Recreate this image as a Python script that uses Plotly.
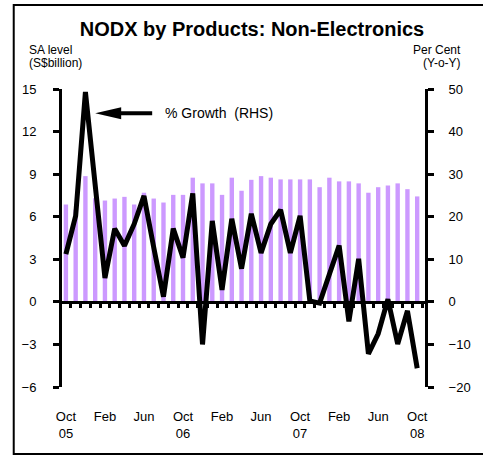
import plotly.graph_objects as go

months = ["Oct 05", "Nov 05", "Dec 05", "Jan 06", "Feb 06", "Mar 06", "Apr 06", "May 06",
          "Jun 06", "Jul 06", "Aug 06", "Sep 06", "Oct 06", "Nov 06", "Dec 06", "Jan 07",
          "Feb 07", "Mar 07", "Apr 07", "May 07", "Jun 07", "Jul 07", "Aug 07", "Sep 07",
          "Oct 07", "Nov 07", "Dec 07", "Jan 08", "Feb 08", "Mar 08", "Apr 08", "May 08",
          "Jun 08", "Jul 08", "Aug 08", "Sep 08", "Oct 08"]

sa_level = [6.86, 6.5, 8.86, 7.3, 7.14, 7.28, 7.40, 6.86, 7.69, 7.28, 7.0, 7.54, 7.54,
            8.75, 8.35, 8.35, 7.54, 8.75, 7.83, 8.6, 8.86, 8.75, 8.63, 8.63, 8.63, 8.63,
            8.08, 8.75, 8.49, 8.49, 8.35, 7.69, 8.08, 8.2, 8.35, 7.94, 7.43]

growth = [11.2, 20.2, 49.3, 27.0, 5.6, 17.2, 13.2, 18.3, 24.9, 12.8, 1.2, 17.2, 10.4,
          25.5, -10.0, 19.0, 2.8, 19.5, 7.8, 20.7, 11.5, 18.3, 21.6, 11.5, 20.2, 0.2,
          -0.3, 6.5, 13.2, -4.6, 10.1, -12.2, -7.5, 0.6, -9.9, -2.1, -15.6]

tick_idx = [0, 4, 8, 12, 16, 20, 24, 28, 32, 36]
tick_text = ["Oct<br>05", "Feb", "Jun", "Oct<br>06", "Feb", "Jun", "Oct<br>07", "Feb", "Jun", "Oct<br>08"]

left_ticks = [-6, -3, 0, 3, 6, 9, 12, 15]
right_ticks = [-20, -10, 0, 10, 20, 30, 40, 50]

FONT = "Liberation Sans, Arial, sans-serif"
W, H = 483, 456
L, R, T, B = 62, 45, 89, 69
PW, PH = W - L - R, H - T - B

def px(x):
    return (x - L) / PW

def py(y):
    return (H - B - y) / PH

fig = go.Figure()
fig.add_trace(go.Bar(x=months, y=sa_level, marker=dict(color="#CC99FF", line=dict(width=0)),
                     xaxis="x", yaxis="y", hoverinfo="skip"))
fig.add_trace(go.Scatter(x=months, y=[None] * len(months), xaxis="x2", yaxis="y",
                         mode="lines", hoverinfo="skip", showlegend=False))
fig.add_trace(go.Scatter(x=months, y=growth, mode="lines", line=dict(color="black", width=5),
                         xaxis="x", yaxis="y2", hoverinfo="skip"))

xr = [-0.4, 36.8]
fig.update_layout(
    width=W, height=H, margin=dict(l=L, r=R, t=T, b=B),
    paper_bgcolor="white", plot_bgcolor="white", showlegend=False, bargap=0.55,
    font=dict(family=FONT, size=13, color="black"),
    title=dict(text="<b>NODX by Products: Non-Electronics</b>", x=252 / W, xanchor="center",
               y=1 - 29 / H, yanchor="middle", yref="container", font=dict(size=20, family=FONT)),
    xaxis=dict(type="category", range=xr, tickmode="array",
               tickvals=[months[i] for i in tick_idx], ticktext=tick_text,
               showline=False, ticks="", showgrid=False, zeroline=False,
               ticklabelstandoff=20, tickfont=dict(size=13)),
    xaxis2=dict(type="category", range=xr, overlaying="x", anchor="free", position=6 / 21,
                showline=True, linewidth=3, linecolor="black", ticks="outside", ticklen=4,
                tickwidth=3, tickcolor="black", tickson="boundaries", showticklabels=False,
                showgrid=False, zeroline=False, tickmode="linear", dtick=1),
    yaxis=dict(range=[-6, 15], tickvals=left_ticks, showline=True, linewidth=3, linecolor="black",
               ticks="outside", ticklen=6, tickwidth=3, tickcolor="black", showgrid=False,
               zeroline=False, ticklabelstandoff=14, tickfont=dict(size=13)),
    yaxis2=dict(range=[-20, 50], tickvals=right_ticks, overlaying="y", side="right",
                showline=True, linewidth=3, linecolor="black", ticks="outside", ticklen=6,
                tickwidth=3, tickcolor="black", showgrid=False, zeroline=False,
                ticklabelstandoff=12, tickfont=dict(size=13)),
)

ann_font = dict(family=FONT, size=12, color="black")
fig.add_annotation(text="SA level", xref="paper", yref="paper", x=px(26), y=py(50),
                   xanchor="left", yanchor="middle", showarrow=False, font=ann_font)
fig.add_annotation(text="(S$billion)", xref="paper", yref="paper", x=px(26), y=py(63),
                   xanchor="left", yanchor="middle", showarrow=False, font=ann_font)
fig.add_annotation(text="Per Cent", xref="paper", yref="paper", x=px(477), y=py(50),
                   xanchor="right", yanchor="middle", showarrow=False, font=ann_font)
fig.add_annotation(text="(Y-o-Y)", xref="paper", yref="paper", x=px(477), y=py(63),
                   xanchor="right", yanchor="middle", showarrow=False, font=ann_font)
fig.add_annotation(text="% Growth\u00a0 (RHS)", xref="x", yref="y2", x=10.0, y=44.3,
                   xanchor="left", yanchor="middle", showarrow=False,
                   font=dict(family=FONT, size=14, color="black"))

# arrow pointing to the peak of the growth line
fig.add_shape(type="path", xref="x", yref="y2", xsizemode="pixel", ysizemode="pixel",
              xanchor=3.0, yanchor=44.3,
              path="M0,0 L26,-6 L26,-2 L57,-2 L57,2 L26,2 L26,6 Z",
              fillcolor="black", line=dict(width=0))

# outer frame
fig.add_shape(type="rect", xref="paper", yref="paper", x0=px(12), x1=px(500),
              y0=py(454), y1=py(5), line=dict(color="black", width=2), layer="above")

fig.write_html("out.html", config={"displayModeBar": False},
               post_script="document.body.style.margin='0';")
